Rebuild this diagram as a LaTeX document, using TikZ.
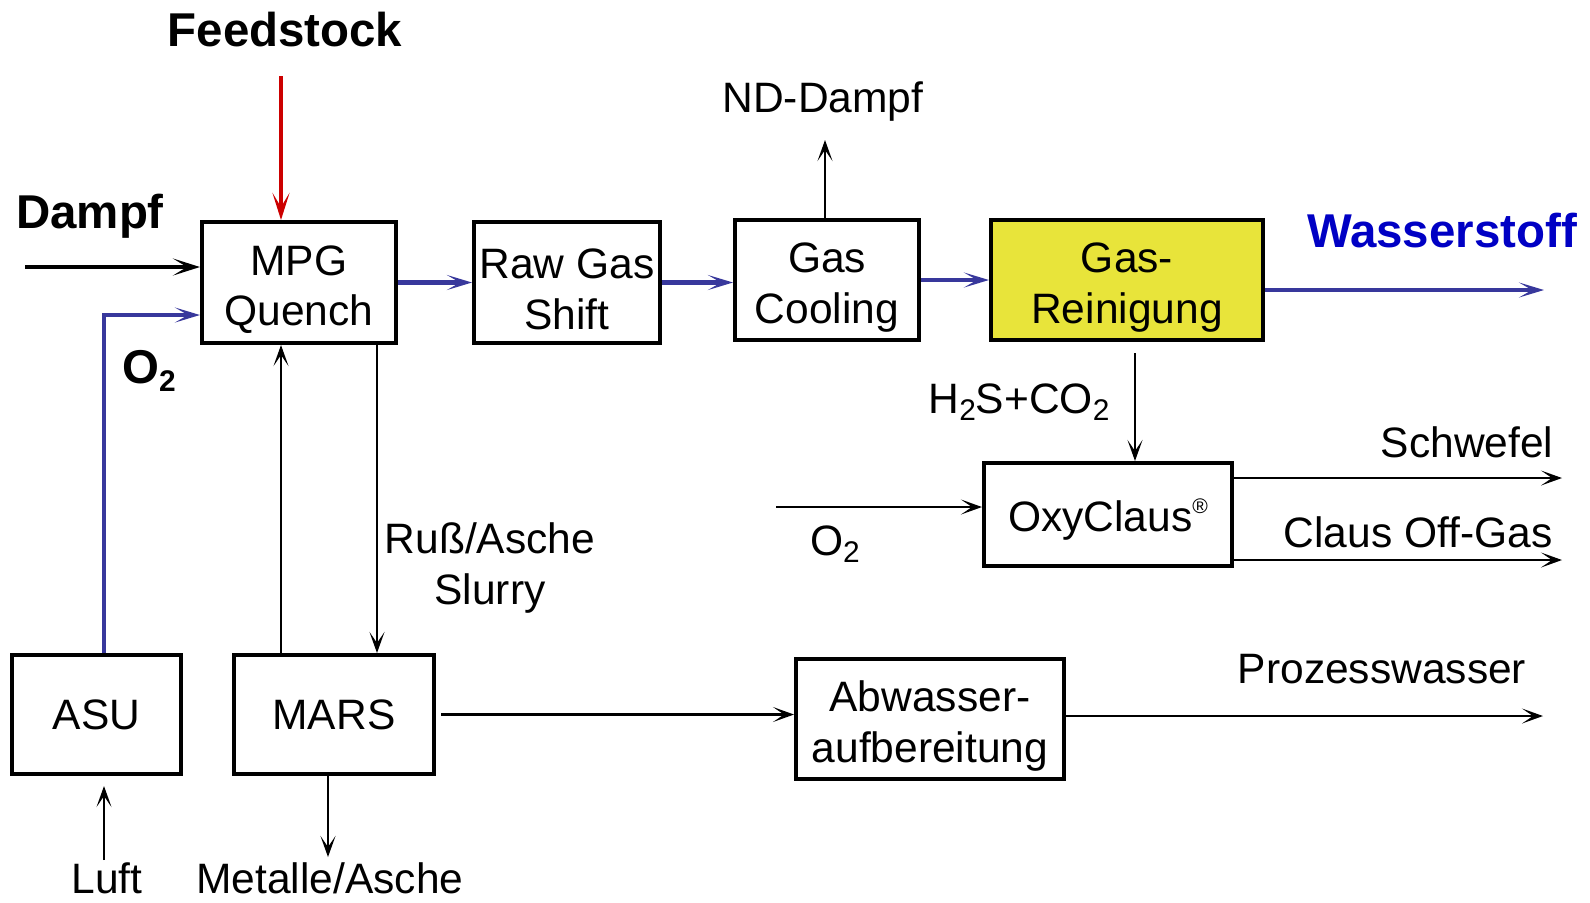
\documentclass[tikz,border=0pt]{standalone}
\usepackage{fontspec}
\setmainfont{Liberation Sans}
\usepackage{xcolor}
\usetikzlibrary{arrows.meta, positioning}
\definecolor{flowblue}{HTML}{38389C}
\definecolor{h2blue}{HTML}{0000C4}
\definecolor{feedred}{HTML}{CC0000}
\definecolor{cleanyellow}{HTML}{E8E43A}
\newcommand\chemsub[1]{\raisebox{-0.32ex}{\fontsize{8.5}{8.5}\selectfont #1}}
\newcommand\regmark{\smash{\raisebox{0.8ex}{\fontsize{6}{6}\selectfont ®}}}
\newcommand\twolines[2]{\rule{0pt}{4.4mm}#1\\#2}

\begin{document}
\begin{tikzpicture}[
  box/.style={rectangle, draw, line width=1.15pt, inner sep=0pt, align=center, font=\fontsize{12.1}{14.5}\selectfont},
  txt/.style={inner sep=0pt, anchor=base, font=\fontsize{12.1}{14.5}\selectfont},
  boldtxt/.style={inner sep=0pt, anchor=base, font=\fontsize{13.5}{16}\selectfont\bfseries},
  arrow/.style={-{Stealth[length=2.1mm, width=1.5mm, inset=1.1mm]}, line width=0.6pt},
  bluearrow/.style={-{Stealth[length=2.5mm, width=1.5mm, inset=1.3mm]}, line width=1.15pt, draw=flowblue},
  thickarrow/.style={-{Stealth[length=2.7mm, width=1.7mm, inset=1.4mm]}, line width=1.15pt}
]
\useasboundingbox (0,0) rectangle (15.90,-9.02);
\node[box, minimum width=1.94cm, minimum height=1.21cm] (mpg) at (2.99,-2.825) {\twolines{MPG}{Quench}};
\node[box, minimum width=1.86cm, minimum height=1.21cm] (raw) at (5.67,-2.825) {\twolines{Raw Gas}{Shift}};
\node[box, minimum width=1.84cm, minimum height=1.20cm] (cool) at (8.27,-2.80) {\twolines{Gas}{Cooling}};
\node[box, fill=cleanyellow, minimum width=2.72cm, minimum height=1.20cm] (clean) at (11.27,-2.80) {\twolines{Gas-}{Reinigung}};
\node[box, minimum width=2.48cm, minimum height=1.03cm] (oxy) at (11.08,-5.145) {\rule{0pt}{4.2mm}OxyClaus\regmark};
\node[box, minimum width=1.69cm, minimum height=1.19cm] (asu) at (0.965,-7.145) {ASU};
\node[box, minimum width=2.00cm, minimum height=1.19cm] (mars) at (3.34,-7.145) {MARS};
\node[box, minimum width=2.68cm, minimum height=1.20cm] (abw) at (9.30,-7.19) {\twolines{Abwasser-}{aufbereitung}};

\node[boldtxt] (feed) at (2.85,-0.46) {Feedstock};
\node[boldtxt] (dampf) at (0.90,-2.28) {Dampf};
\node[boldtxt] (o2mpg) at (1.49,-3.83) {O\chemsub{2}};
\node[boldtxt, h2blue] (h2) at (14.42,-2.47) {Wasserstoff};
\node[txt] (nd) at (8.23,-1.12) {ND-Dampf};
\node[txt] (h2s) at (10.19,-4.13) {H\chemsub{2}S+CO\chemsub{2}};
\node[txt] (o2oxy) at (8.35,-5.55) {O\chemsub{2}};
\node[txt, anchor=base east] (schwefel) at (15.54,-4.57) {Schwefel};
\node[txt, anchor=base east] (clausoff) at (15.53,-5.47) {Claus Off-Gas};
\node[txt] (prozess) at (13.82,-6.83) {Prozesswasser};
\node[txt, align=center, anchor=center] (slurrytxt) at (4.90,-5.68) {Ruß/Asche\\Slurry};
\node[txt] (luft) at (1.07,-8.93) {Luft};
\node[txt] (metalle) at (3.30,-8.93) {Metalle/Asche};

\coordinate (feedin) at (2.81,-0.76);
\coordinate (dampfin) at (0.25,-2.67);
\coordinate (o2bend) at (1.04,-3.15);
\coordinate (ndout) at (8.25,-1.40);
\coordinate (h2out) at (15.44,-2.90);
\coordinate (h2sin) at (11.35,-3.53);
\coordinate (o2in) at (7.76,-5.07);
\coordinate (sout) at (15.62,-4.78);
\coordinate (offgas) at (15.62,-5.60);
\coordinate (waterout) at (15.43,-7.16);
\coordinate (slurry) at (3.77,-5.00);
\coordinate (luftin) at (1.04,-8.60);
\coordinate (ashout) at (3.28,-8.57);

\draw[thickarrow, feedred] (feedin) -- (feedin |- mpg.north);
\draw[thickarrow] (dampfin) -- (dampfin -| mpg.west);
\draw[bluearrow] (asu.north -| o2bend) -- (o2bend) -- (o2bend -| mpg.west);
\draw[bluearrow] (mpg) -- (raw);
\draw[bluearrow] (raw.east) -- (raw.east -| cool.west);
\draw[bluearrow] (cool) -- (clean);
\draw[bluearrow] (clean.east |- h2out) -- (h2out);
\draw[arrow] (cool.north -| ndout) -- (ndout);
\draw[arrow] (h2sin) -- (h2sin |- oxy.north);
\draw[arrow] (o2in) -- (o2in -| oxy.west);
\draw[arrow] (oxy.east |- sout) -- (sout);
\draw[arrow] (oxy.east |- offgas) -- (offgas);
\draw[arrow] (mars.north -| feedin) -- (mpg.south -| feedin);
\draw[arrow] (mpg.south -| slurry) -- (mars.north -| slurry);
\draw[arrow, shorten <=0.05cm] (mars.east) -- (mars.east -| abw.west);
\draw[arrow] (abw.east |- waterout) -- (waterout);
\draw[arrow, shorten >=0.10cm] (luftin) -- (luftin |- asu.south);
\draw[arrow] (mars.south -| ashout) -- (ashout);
\end{tikzpicture}
\end{document}
